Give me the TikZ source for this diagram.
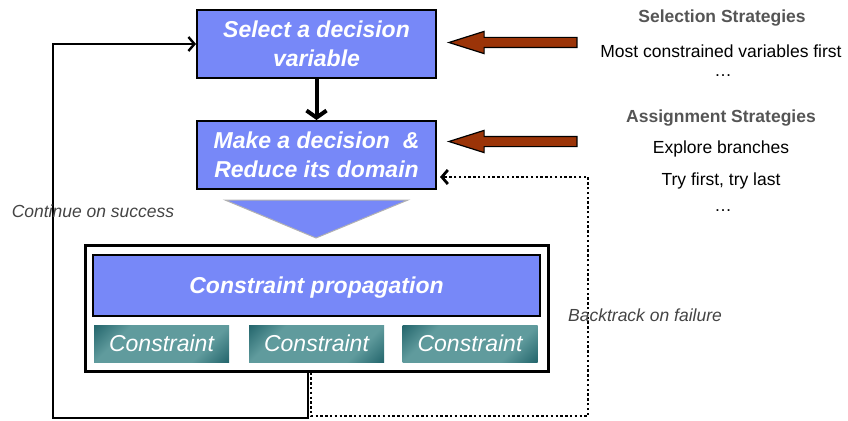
\documentclass[tikz,border=0pt]{standalone}
\usepackage{fontspec}
\setmainfont{Liberation Sans}
\usetikzlibrary{arrows.meta, positioning, shapes.arrows}
\definecolor{peri}{RGB}{119,136,248}
\definecolor{rust}{RGB}{155,52,8}
\definecolor{tdark}{RGB}{18,86,94}
\definecolor{tlight}{RGB}{96,155,157}
\definecolor{slate}{RGB}{85,85,85}
\pgfdeclareverticalshading{tealband}{100bp}{color(0bp)=(tdark); color(10bp)=(tdark);
  color(30bp)=(tlight); color(70bp)=(tlight); color(90bp)=(tdark); color(100bp)=(tdark)}

\begin{document}
\begin{tikzpicture}[x=1pt, y=-1pt, node distance=41pt,
    every node/.style={font=\fontsize{17.5}{21}\selectfont},
    b/.style={draw=black, line width=2pt, fill=peri, text=white, align=center,
              minimum width=239pt, minimum height=68pt, inner sep=0pt,
              font=\fontsize{23}{29}\selectfont\bfseries\itshape},
    c/.style={minimum width=135pt, minimum height=37pt, inner sep=0pt, text=white,
              shading=tealband, shading angle=45,
              font=\fontsize{23}{28}\selectfont\itshape},
    ba/.style={single arrow, shape border rotate=180, draw=black, line width=1.2pt,
               fill=rust, minimum height=128pt, inner sep=4.5pt,
               single arrow head extend=6pt, single arrow tip angle=35},
    t/.style={anchor=base},
    hd/.style={t, text=slate, font=\fontsize{17.5}{21}\selectfont\bfseries},
    lb/.style={text=slate!80!black, font=\fontsize{17.5}{21}\selectfont\itshape},
    ar/.style={-{Straight Barb[length=6pt, width=14pt]}, line width=2.4pt}]
  \useasboundingbox (0,0) rectangle (848,420);

  % search steps
  \node[b] (b1) at (316.5,44) {Select a decision\\variable};
  \node[b, below=of b1] (b2) {Make a decision~~\&\\Reduce its domain};
  \draw[-{Straight Barb[length=7pt, width=20pt]}, line width=4pt] (b1) -- (b2);
  \draw[fill=peri, draw=gray!60, line width=1pt] (225,200) -- (408,200) -- (316,238) -- cycle;

  % propagation block
  \node[draw, line width=3pt, fill=white, minimum width=463pt, minimum height=126pt,
        inner sep=0pt] (grp) at (316.5,308) {};
  \node[b, minimum width=447pt, minimum height=61pt, text depth=0pt] (prop) at (316.5,285.5)
       {Constraint propagation};
  \node[c] (c1) at (161.5,343.5) {Constraint};
  \node[c] (c2) at (316.5,343.5) {Constraint};
  \node[c] (c3) at (470,343.5) {Constraint};

  % loops back
  \coordinate (lc) at (53,418);
  \coordinate (rc) at (588,416);
  \draw[ar] ([xshift=-8.5pt]grp.south) |- (lc) |- (b1.west);
  \draw[ar, line width=2.8pt, dash pattern=on 2.4pt off 2.4pt, shorten >=3pt]
       ([xshift=-5.5pt]grp.south) |- (rc) |- ([yshift=-22pt]b2.east);
  \node[lb] (ok) at (93,211) {Continue on success};
  \node[lb] (ko) at (645,315) {Backtrack on failure};

  % strategies
  \node[hd] (sel) at (722,23) {Selection Strategies};
  \node[t] (s1) at (721,57) {Most constrained variables first};
  \node[t] (s2) at (723,77) {\ldots};
  \node[hd] (asg) at (721,122) {Assignment Strategies};
  \node[t] (a1) at (721,153) {Explore branches};
  \node[t] (a2) at (721,185) {Try first, try last};
  \node[t] (a3) at (723,211) {\ldots};
  \node[ba] (p1) at (521,42.5) {};
  \node[ba] (p2) at (521,141.5) {};
\end{tikzpicture}
\end{document}
